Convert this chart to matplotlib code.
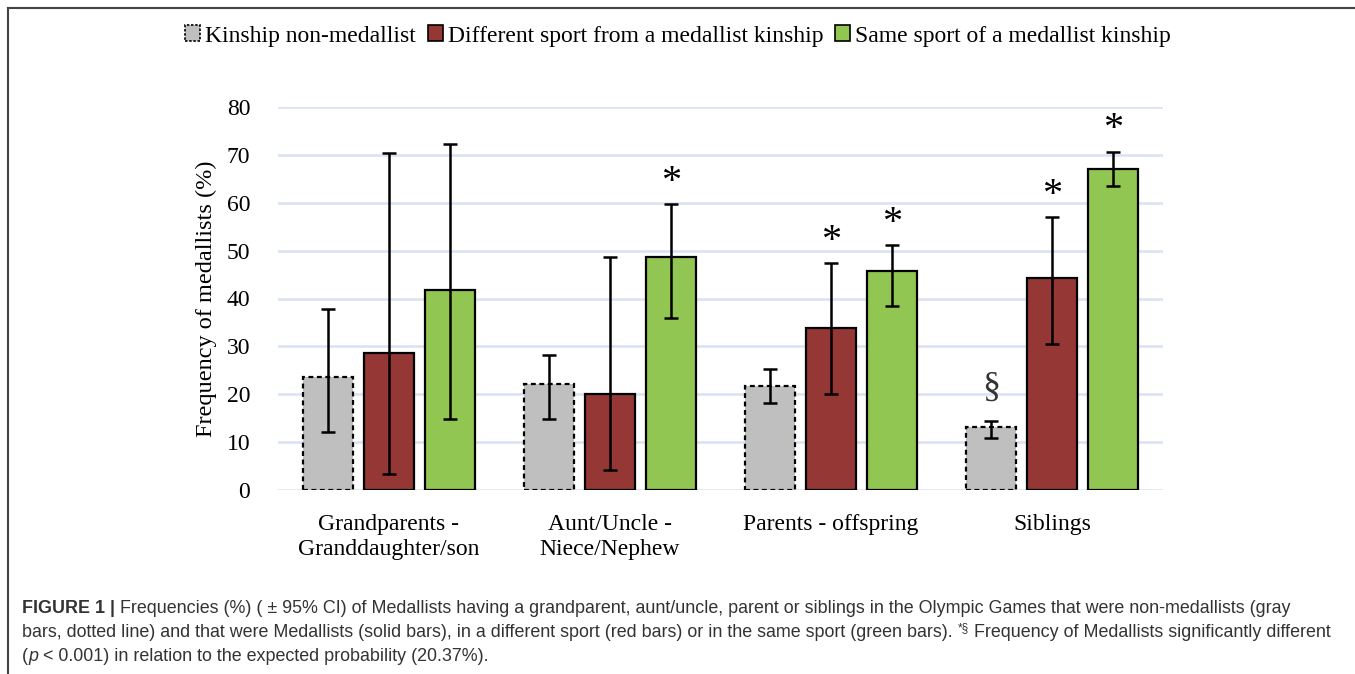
import numpy as np
import matplotlib
matplotlib.use('Agg')
import matplotlib.pyplot as plt
from matplotlib.lines import Line2D
from matplotlib.patches import Patch

categories = ['Grandparents -\nGranddaughter/son', 'Aunt/Uncle -\nNiece/Nephew', 'Parents - offspring', 'Siblings']
series = ['Kinship non-medallist', 'Different sport from a medallist kinship', 'Same sport of a medallist kinship']

# bar heights (%)
non_medal = [23.6, 22.1, 21.7, 13.1]
diff_sport = [28.7, 20.0, 33.9, 44.3]
same_sport = [41.8, 48.6, 45.8, 67.0]
# 95% CI bounds
non_medal_lo = [12.1, 14.8, 18.2, 10.8]
non_medal_hi = [37.8, 28.3, 25.3, 14.5]
diff_sport_lo = [3.4, 4.1, 20.1, 30.5]
diff_sport_hi = [70.4, 48.6, 47.4, 57.0]
same_sport_lo = [14.8, 36.0, 38.4, 63.6]
same_sport_hi = [72.3, 59.7, 51.1, 70.7]
# significance marks above bars
non_medal_mark = ['', '', '', '§']
diff_sport_mark = ['', '', '*', '*']
same_sport_mark = ['', '*', '*', '*']

colors = ['#bfbfbf', '#953735', '#92c653']
serif = ['Liberation Serif', 'DejaVu Serif']
sans = ['Liberation Sans', 'DejaVu Sans']

fig = plt.figure(figsize=(13.55, 6.74), dpi=100)
ax = fig.add_axes([278 / 1355, 1 - 490 / 674, 885 / 1355, 383 / 674])

x = np.arange(len(categories))
pitch = 0.2757
width = 0.226
data = [
    (non_medal, non_medal_lo, non_medal_hi, non_medal_mark),
    (diff_sport, diff_sport_lo, diff_sport_hi, diff_sport_mark),
    (same_sport, same_sport_lo, same_sport_hi, same_sport_mark),
]
for i, (vals, lo, hi, marks) in enumerate(data):
    xs = x + (i - 1) * pitch
    vals = np.array(vals)
    yerr = [vals - np.array(lo), np.array(hi) - vals]
    ls = (0, (2.2, 1.6)) if i == 0 else '-'
    ax.bar(xs, vals, width, color=colors[i], edgecolor='black', linewidth=1.6,
           linestyle=ls, zorder=2)
    ax.errorbar(xs, vals, yerr=yerr, fmt='none', ecolor='black', elinewidth=1.8,
                capsize=5, capthick=1.8, zorder=3)
    for xx, h, m in zip(xs, hi, marks):
        if m == '*':
            ax.text(xx, h + 4.6, m, ha='center', va='center', fontsize=29,
                    family=serif, zorder=4)
        elif m:
            ax.text(xx, h + 7.0, m, ha='center', va='center', fontsize=26,
                    family=serif, color='#333333', zorder=4)

ax.set_xlim(-0.5, 3.5)
ax.set_ylim(0, 80)
ax.set_yticks(np.arange(0, 81, 10))
ax.yaxis.grid(True, color='#d9e2f3', linewidth=1.8, zorder=0)
ax.set_axisbelow(True)
for s in ax.spines.values():
    s.set_visible(False)
ax.tick_params(length=0)
ax.tick_params(axis='y', pad=20)
ax.tick_params(axis='x', pad=17)
ax.set_xticks(x)
ax.set_xticklabels(categories, linespacing=1.3)
for lab in ax.get_xticklabels() + ax.get_yticklabels():
    lab.set_fontfamily(serif)
    lab.set_fontsize(17)
ax.set_ylabel('Frequency of medallists (%)', fontsize=17.5, family=serif)
ax.yaxis.set_label_coords(-0.069, 0.5)

handles = [
    Patch(facecolor=colors[0], edgecolor='black', linestyle=(0, (1.5, 1)), linewidth=1.2),
    Patch(facecolor=colors[1], edgecolor='black', linewidth=1.2),
    Patch(facecolor=colors[2], edgecolor='black', linewidth=1.2),
]
fig.legend(handles, series, loc='center', bbox_to_anchor=(678 / 1355, 1 - 36 / 674),
           ncol=3, frameon=False, prop={'family': serif, 'size': 17},
           handlelength=0.65, handleheight=0.65, handletextpad=0.2, columnspacing=0.5)

# frame lines
fig.add_artist(Line2D([8 / 1355, 8 / 1355], [0, 1 - 8 / 674], color='#444444', linewidth=1.5))
fig.add_artist(Line2D([8 / 1355, 1], [1 - 8 / 674, 1 - 8 / 674], color='#444444', linewidth=1.5))

# caption
renderer = fig.canvas.get_renderer()
cap_color = '#333333'
cap_size = 12.9


def row(segments, x0, y):
    xpos = x0
    for txt, kw in segments:
        props = dict(family=sans, fontsize=cap_size, color=cap_color, va='baseline', ha='left')
        dy = kw.pop('dy', 0)
        props.update(kw)
        t = fig.text(xpos, y + dy, txt, **props)
        bb = t.get_window_extent(renderer)
        xpos += bb.width / fig.bbox.width


x0 = 22 / 1355
row([('FIGURE 1 | ', {'fontweight': 'bold'}),
     ('Frequencies (%) ( ± 95% CI) of Medallists having a grandparent, aunt/uncle, parent or siblings in the Olympic Games that were non-medallists (gray', {})],
    x0, 1 - 613 / 674)
row([('bars, dotted line) and that were Medallists (solid bars), in a different sport (red bars) or in the same sport (green bars). ', {}),
     ('*§', {'fontsize': 8.5, 'dy': 0.009}),
     (' Frequency of Medallists significantly different', {})],
    x0, 1 - 637 / 674)
row([('(', {}), ('p', {'style': 'italic'}),
     (' < 0.001) in relation to the expected probability (20.37%).', {})],
    x0, 1 - 661 / 674)

fig.savefig('out.png', dpi=100, facecolor='white')
